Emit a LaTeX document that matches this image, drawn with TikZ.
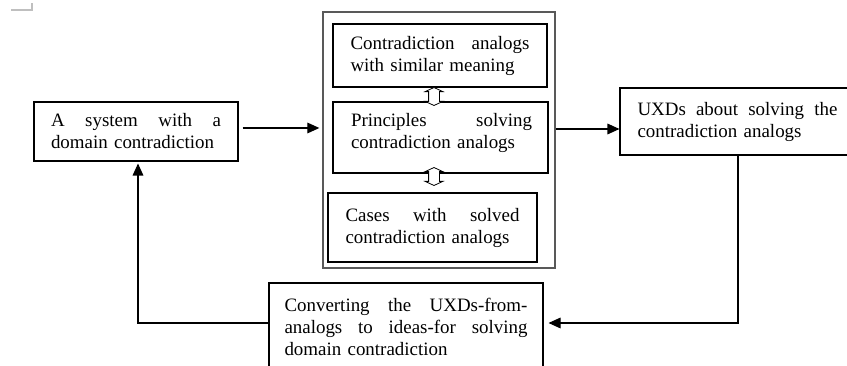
\documentclass[tikz,border=0pt]{standalone}
\usepackage{fontspec}
\setmainfont{Liberation Serif}
\usetikzlibrary{arrows.meta,shapes.arrows,positioning}

\begin{document}
\begin{tikzpicture}[x=0.75pt,y=-0.75pt,
  box/.style={draw=black,line width=0.8pt,align=left,inner sep=0pt,
    font=\fontsize{14.2}{16.5}\selectfont},
  txt/.style={align=left,inner sep=0pt,font=\fontsize{14.2}{16.5}\selectfont},
  flow/.style={line width=0.8pt,-{Triangle[length=9pt,width=8pt]}},
  updown/.style={double arrow,draw=black,fill=white,line width=0.6pt,rotate=90,
    inner xsep=0pt,inner ysep=3.75pt,minimum height=13.5pt,
    double arrow head extend=2.6pt,double arrow tip angle=130}]

\useasboundingbox (0,0) rectangle (847,366);

% corner mark
\draw[black!25,line width=1pt] (11,10) -- (32,10) -- (32,3);

\node[box,minimum width=153pt,minimum height=44.25pt,text width=127.5pt] (sys) at (136,131.5)
  {A\hfill system\hfill with\hfill a\\domain contradiction};

\node[draw=black!65,line width=1pt,minimum width=174pt,minimum height=192pt,inner sep=0pt] (outer) at (439,140) {};

\node[box,minimum width=160.5pt,minimum height=47.25pt,text width=134.25pt] (ana) at (440,55.5)
  {Contradiction\hfill analogs\\with similar meaning};
\node[box,minimum width=161.25pt,minimum height=53.25pt] (pri) at (440.5,137.5) {};
\node[txt,text width=135.75pt] (pritext) at (441.5,133)
  {Principles\hfill solving\\contradiction analogs};
\node[box,minimum width=156.75pt,minimum height=51.75pt,text width=130.5pt] (cas) at (432.5,227.5)
  {Cases\hfill with\hfill solved\\contradiction analogs};

\node[updown] (dbla) at (434,96.5) {};
\node[updown] (dblb) at (434,176.5) {};

\node[box,minimum width=176.25pt,minimum height=50.25pt,text width=150pt] (uxd) at (737.5,121.5)
  {UXDs\hfill about\hfill solving\hfill the\\contradiction analogs};

\node[box,minimum width=205.5pt,minimum height=66pt,text width=182.25pt] (conv) at (406,327)
  {Converting\hfill the\hfill UXDs-from-\\analogs\hfill to\hfill ideas-for\hfill solving\\domain contradiction};

\coordinate (loopR) at (738,323);
\coordinate (loopL) at (138,323);

\draw[flow,shorten <=3pt,shorten >=2.25pt] (sys.east |- 0,128) -- (outer.west |- 0,128);
\draw[flow] (outer.east |- 0,129) -- (uxd.west |- 0,129);
\draw[flow,shorten >=3.75pt] (uxd.south -| loopR) -- (loopR) -- (conv.east |- loopR);
\draw[flow,shorten >=1.5pt] (conv.west |- loopL) -- (loopL) -- (sys.south -| loopL);

\end{tikzpicture}
\end{document}
